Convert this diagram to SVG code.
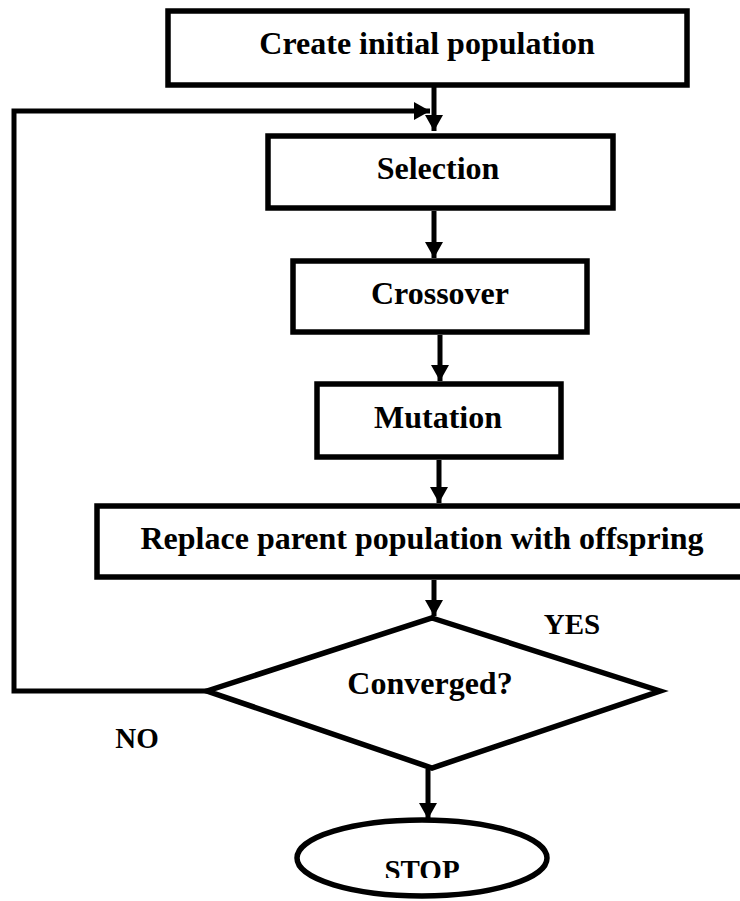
<svg xmlns="http://www.w3.org/2000/svg" width="740" height="901" viewBox="0 0 740 901">
<style>
.box{fill:#fff;stroke:#000;stroke-width:5.5}
.lbl{font-family:"Liberation Serif","Times New Roman",serif;font-weight:bold;font-size:32px;fill:#000;text-anchor:middle}
.small{font-size:29px}
.conn{fill:none;stroke:#000;stroke-width:5}
</style>
<defs>
<marker id="ah" markerUnits="userSpaceOnUse" markerWidth="16" markerHeight="18" viewBox="0 0 16 18" refX="16" refY="9" orient="auto">
<path d="M0,0 L16,9 L0,18 Z" fill="#000"/>
</marker>
<clipPath id="stopclip"><rect x="0" y="0" width="740" height="878"/></clipPath>
</defs>
<rect width="740" height="901" fill="#fff"/>
<g id="connectors">
<line class="conn" x1="434" y1="87" x2="434" y2="131" marker-end="url(#ah)"/>
<polyline class="conn" points="208,691 14,691 14,111 430,111" marker-end="url(#ah)"/>
<line class="conn" x1="434" y1="211" x2="434" y2="258" marker-end="url(#ah)"/>
<line class="conn" x1="440" y1="335" x2="440" y2="381" marker-end="url(#ah)"/>
<line class="conn" x1="439" y1="460" x2="439" y2="503" marker-end="url(#ah)"/>
<line class="conn" x1="434" y1="580" x2="434" y2="616" marker-end="url(#ah)"/>
<line class="conn" x1="428" y1="769" x2="428" y2="819" marker-end="url(#ah)"/>
</g>
<g id="n-create">
<rect class="box" x="168" y="11" width="519" height="74"/>
<text class="lbl" x="427" y="54">Create initial population</text>
</g>
<g id="n-selection">
<rect class="box" x="268" y="136" width="345" height="72"/>
<text class="lbl" x="438" y="179">Selection</text>
</g>
<g id="n-crossover">
<rect class="box" x="293" y="261" width="294" height="71"/>
<text class="lbl" x="440" y="304">Crossover</text>
</g>
<g id="n-mutation">
<rect class="box" x="317" y="384" width="244" height="73"/>
<text class="lbl" x="438" y="428">Mutation</text>
</g>
<g id="n-replace">
<rect class="box" x="97" y="506" width="660" height="71"/>
<text class="lbl" x="422" y="549">Replace parent population with offspring</text>
</g>
<g id="n-converged">
<polygon class="box" points="432,618 660,691 432,768 207,691"/>
<text class="lbl" x="430" y="694">Converged?</text>
</g>
<g id="n-stop">
<ellipse class="box" cx="422" cy="858" rx="125" ry="38"/>
<text class="lbl small" x="422" y="880" clip-path="url(#stopclip)">STOP</text>
</g>
<g id="edge-labels">
<text class="lbl small" x="572" y="634">YES</text>
<text class="lbl small" x="137" y="748">NO</text>
</g>
</svg>
